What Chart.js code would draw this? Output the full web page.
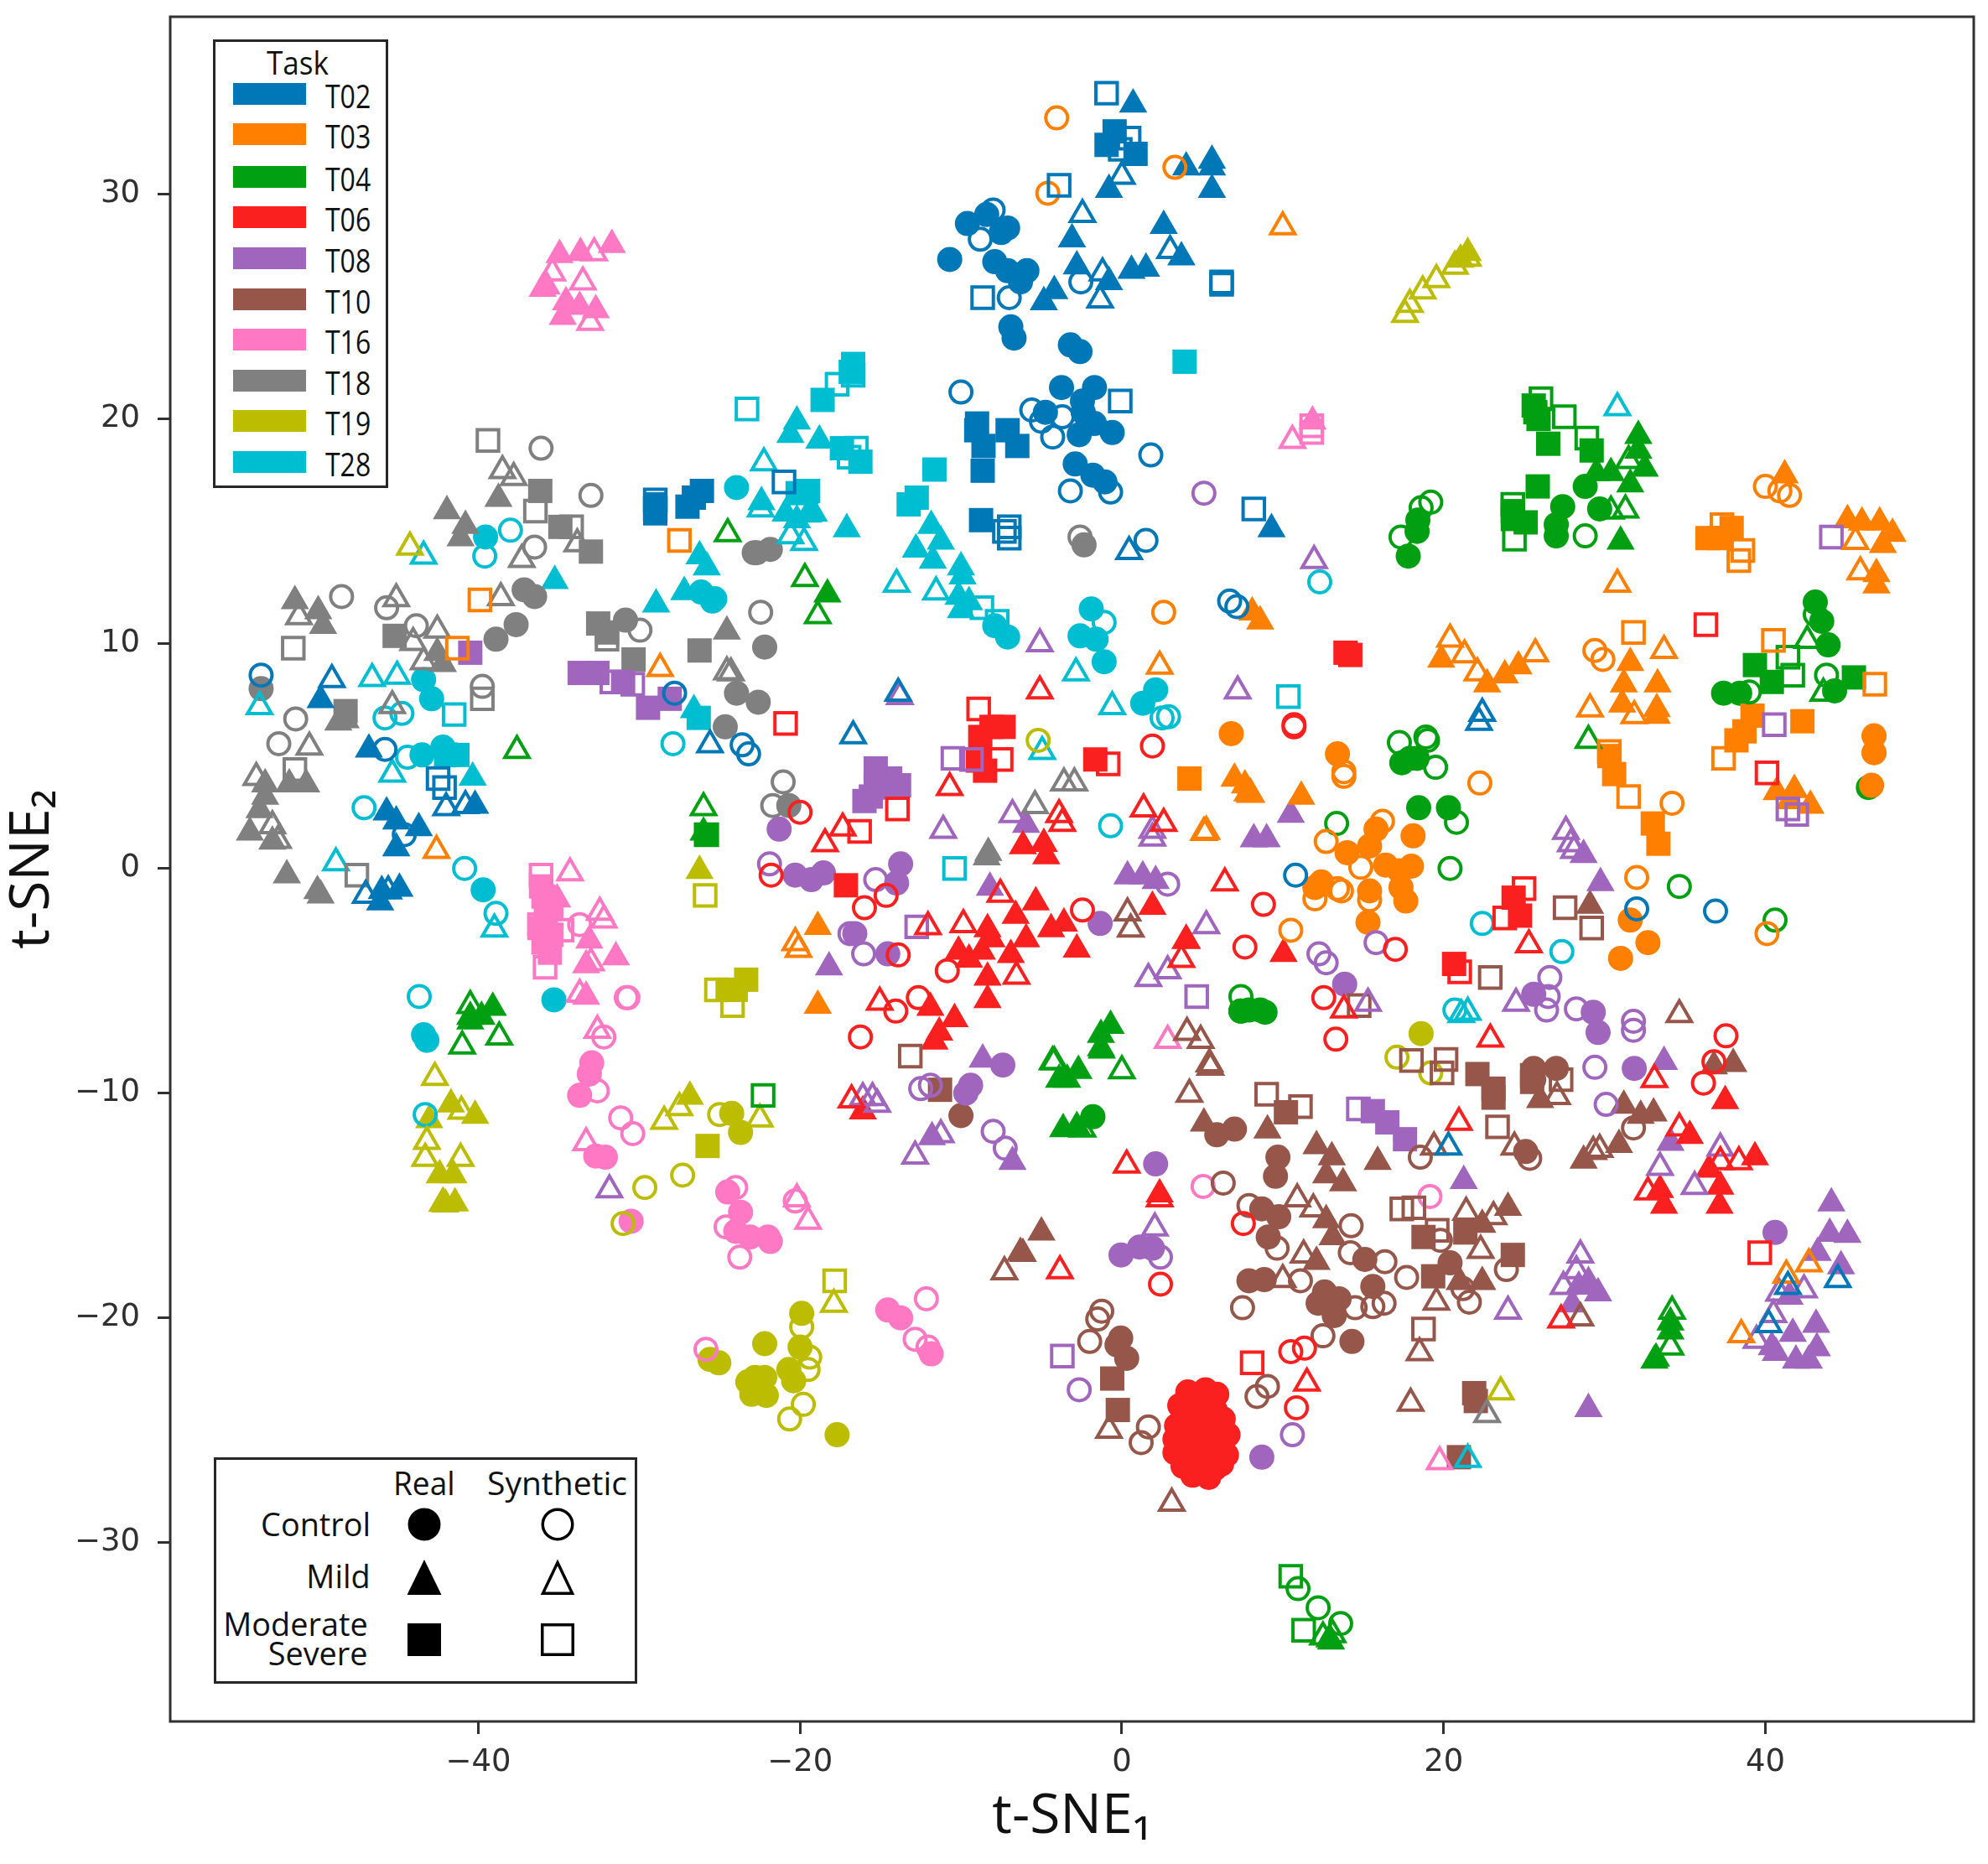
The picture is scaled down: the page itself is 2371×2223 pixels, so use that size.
<!DOCTYPE html>
<html><head><meta charset="utf-8">
<script src="https://cdn.jsdelivr.net/npm/chart.js@4"></script>
<style>
html,body{margin:0;padding:0;background:#fff;width:2371px;height:2223px;overflow:hidden}
#wrap{position:relative;width:2371px;height:2223px}
canvas{position:absolute;left:0;top:0}
.box{position:absolute;box-sizing:border-box;border:3px solid #262626;background:#fff}
.t{position:absolute;font-family:"Open Sans",sans-serif;font-size:39px;line-height:1;white-space:nowrap;color:#111}
.p{position:absolute;height:26px;width:87px}
svg{position:absolute;left:0;top:0}
</style></head><body>
<div id="wrap"><canvas id="c" width="2371" height="2223"></canvas><div id="legends"></div></div>
<script>
const tasks=['T02','T03','T04','T06','T08','T10','T16','T18','T19','T28'];
const colors=['#0077B6','#FF7F00','#00A012','#FA2020','#A066BE','#96564A','#FF78C4','#808080','#BCBC00','#00BED2'];
const xTicks=[-40,-20,0,20,40];
const yTicks=[-30,-20,-10,0,10,20,30];

const T02_real_control=[[-10.7,27.1],[-9.6,28.7],[-8.4,29.1],[-7.5,28.3],[-7.1,28.5],[-7.9,27],[-7.1,26.6],[-5.9,26.6],[-6.3,26.1],[-6.9,24.1],[-6.7,23.6],[-3.2,23.3],[-2.6,23],[-3.75,21.4],[-1.7,21.4],[-2.45,20.8],[-4.75,20.3],[-2.4,20.3],[-1.7,19.8],[-0.6,19.4],[-2.65,19.3],[-2.9,18],[-1.8,17.5],[-1.05,17.2]];
const T02_synth_control=[[-10,21.2],[-5.6,20.4],[-3.7,20.1],[-5,19.9],[-4.3,19.2],[1.8,18.4],[-3.2,16.8],[-0.7,16.75],[1.5,14.6],[-8,29.3],[-8.8,28],[-7,25.4],[-2.55,26.1],[-23.6,5.5],[-23.2,5.1],[-45.8,5.3],[-44.6,1.5],[-53.5,8.6],[-27.8,7.8],[6.7,11.9],[7.15,11.65],[32,-1.8],[36.9,-1.9],[10.8,-0.3]];
const T02_real_mild=[[0.7,34],[4,31.2],[5.6,31.5],[5.6,31.2],[5.6,30.2],[-0.8,30.2],[-3.1,28],[2.6,28.6],[3.7,27.2],[-2.8,26.8],[-0.8,26.1],[0.6,26.6],[1.5,26.7],[-4.2,25.7],[-4.85,25.2],[9.3,15.1],[-49.8,7.5],[-46.8,5.3],[-45.7,2.5],[-45.1,2.1],[-43.7,1.8],[-45.1,0.9],[-46,-1],[-44.9,-0.9],[-46.1,-1.5],[-40.2,2.8]];
const T02_synth_mild=[[0,30.8],[-2.45,29.1],[3,27.5],[-1.2,26.5],[-1.35,25.3],[0.45,14.1],[-49.1,8.4],[-25.6,5.5],[-16.7,5.9],[-42,2.7],[-40.8,2.8],[-47,-1.2],[-45.6,-1],[22.4,6.9],[22.2,6.5],[20.3,-12.4],[44.5,-18.3],[41.4,-18.6],[40.2,-20.3],[-13.9,7.8]];
const T02_real_moderate=[[-0.45,32.8],[-0.95,32.2],[0.85,31.8],[-9,19.8],[-9.05,19.5],[-7.1,19.5],[-6.5,18.8],[-8.6,18.8],[-8.65,17.7],[-8.75,15.5],[-29,16.2],[-29,15.8],[-27,16.1],[-26.6,16.5],[-26.1,16.8]];
const T02_synth_moderate=[[-0.95,34.5],[0.45,32.5],[-0.1,32],[-3.9,30.4],[-8.65,25.4],[6.2,26.1],[6.2,26],[-0.1,20.8],[8.2,16],[-7.3,15],[-7,14.7],[-7,15.2],[-21,17.2],[-29,16],[-29,16.4],[-42.5,4],[-42.1,3.6]];

const T03_real_control=[[6.8,6],[13.4,5.1],[15.8,1.75],[15.4,1],[14,0.7],[18.1,1.45],[16.4,0.15],[17.25,-0.1],[18,0.1],[15.4,-1],[17.35,-0.85],[17.65,-1.45],[15.3,-2.4],[31.6,-2.3],[32.7,-3.3],[31,-4],[12,-0.85],[12.4,-0.6],[46.75,5.9],[46.75,5.15],[46.6,3.7]];
const T03_synth_control=[[-4.05,33.4],[3.3,31.2],[-4.6,30.05],[2.6,11.4],[40,17],[40.9,16.8],[41.5,16.6],[29.4,9.7],[29.9,9.3],[22.25,3.8],[34.2,2.9],[13.8,4.3],[13.8,4.1],[32,-0.4],[40.1,-2.9],[16.2,2.1],[14.85,0.05],[13.4,-0.9],[15.4,-1.4],[12,-1.35],[10.5,-2.75],[12.7,1.2],[13.65,-1]];
const T03_real_mild=[[41.2,17.5],[45.1,15.5],[46,15.4],[47.1,15.4],[47.9,14.9],[47.3,14.4],[46.9,13.1],[46.9,12.6],[19.85,9.3],[22.7,8.2],[23.8,8.6],[24.65,9],[31.6,9.15],[31.2,8.2],[33.3,8.2],[31.1,7.3],[33.25,7.1],[33.25,6.8],[40.7,3.4],[41.8,3.5],[42.8,2.8],[41.5,3],[8.1,11.4],[8.6,11],[7,4],[7.65,3.7],[7.8,3.35],[11.15,3.2],[-18.9,-2.6],[-18.9,-6.1]];
const T03_synth_mild=[[10,28.55],[30.8,12.65],[45.9,13.2],[45.6,14.55],[20.4,10.2],[21.3,9.5],[22.1,8.7],[25.7,9.55],[33.7,9.7],[29.1,7.1],[31.85,6.8],[2.35,9],[5.25,1.65],[5.1,1.6],[-28.7,8.9],[-42.6,0.8],[-20.3,-3.3],[-20.1,-3.6],[8,3.3],[41.3,-18.1],[42.7,-17.6],[38.5,-20.75]];
const T03_real_moderate=[[36.4,14.7],[37.1,14.7],[37.9,15.15],[39.2,6.8],[38.7,6.1],[38.2,5.7],[42.3,6.55],[30.3,5],[30.6,4.2],[33,2],[33.35,1.1],[4.2,4]];
const T03_synth_moderate=[[37.3,15.3],[38.6,14.15],[38.35,13.7],[31.8,10.5],[40.5,10.15],[46.8,8.2],[37.4,4.9],[31.5,3.2],[30.3,5.2],[-27.5,14.6],[-39.9,11.95],[-41.3,9.8]];

const T04_real_control=[[18.4,15.5],[18.35,15],[17.8,13.9],[27.4,16.1],[28.8,17],[29.7,16],[27,15.3],[27,14.8],[43.1,11.85],[43.5,11],[43.9,9.95],[37.4,7.8],[38.4,7.8],[44.3,7.9],[46.4,3.6],[17.4,4.7],[18.35,4.9],[17.9,4.9],[18.45,2.7],[20.3,2.7],[7.4,-6.35],[8.6,-6.3],[7.9,-6.3],[8.9,-6.4],[-1.8,-11.05]];
const T04_synth_control=[[19.2,16.3],[18.6,16.05],[17.35,14.75],[28.8,14.8],[43.1,11.3],[43.8,8.6],[39,7.85],[17.25,5.6],[18.9,5.85],[19,5.7],[19.5,4.5],[20.8,2.05],[20.4,0],[34.65,-0.8],[40.6,-2.3],[13.35,2],[7.4,-5.7],[7.4,-6.35],[10.95,-32.05],[12.2,-32.9],[13.6,-33.6]];
const T04_real_mild=[[32.1,19.25],[32.1,18.6],[32.5,17.8],[29.5,17.6],[30.4,17.6],[31.6,17.1],[31,14.55],[-18.3,12.2],[-40.5,-6.6],[-39.8,-6.6],[-39.1,-6.2],[-40.5,-6.8],[-1.3,-7.4],[-0.7,-7],[-1.3,-8],[-3.4,-9.4],[-2.7,-9],[-3.9,-9.4],[-1.25,-8.1],[-3.65,-11.6],[-2.8,-11.5],[-26,1.6],[34.1,-20.2],[34.1,-20.6],[33.2,-21.8],[33.1,-21.9],[12.9,-34.3],[13,-34.4]];
const T04_synth_mild=[[30.4,15.9],[31.3,15.95],[31.5,18.15],[42.6,10.15],[43.6,7.8],[29,5.7],[-19.7,12.9],[-18.9,11.25],[-24.5,14.9],[-37.6,5.25],[-26,2.7],[-40.5,-6.1],[-41,-7.9],[-38.7,-7.5],[-4.3,-8.6],[0,-9],[-4.2,-8.6],[-2.45,-11.6],[34.2,-19.7],[34.1,-21.3],[12.5,-34.2],[13.1,-34.1]];
const T04_real_moderate=[[25.6,20.6],[25.7,20.3],[25.9,20],[26.5,18.9],[29.2,18.6],[25.85,17],[24.3,15.55],[25.1,15.4],[24.3,15.9],[39.35,9.05],[40.4,8.3],[45.5,8.5],[-25.85,1.5]];
const T04_synth_moderate=[[26.05,20.9],[27.5,20.1],[28.9,19.15],[24.3,16.2],[24.4,14.65],[41.4,9.4],[41.7,8.6],[-22.3,-10.1],[-25.8,1.5],[10.5,-31.5],[11.3,-33.9]];

const T06_real_control=[[4.1,-23.3],[5.2,-23.2],[5.9,-23.4],[3.8,-24],[4.8,-24],[5.8,-24.1],[6.3,-24.5],[3.4,-24.8],[4.4,-24.6],[5.3,-24.8],[3.3,-25.4],[4.2,-25.4],[5.2,-25.5],[6.1,-25.3],[6.6,-25.2],[3.3,-26],[4.3,-26.1],[5.4,-26.2],[6.5,-26.1],[3.8,-26.6],[4.8,-26.7],[5.8,-26.7],[6.2,-26.5],[4.4,-27],[5.4,-27.1],[5,-26.9],[3.6,-23.9]];
const T06_synth_control=[[-20,2.5],[-21.8,-0.3],[-16,-1.75],[-14.65,-1.2],[-13.9,-3.85],[-10.85,-4.55],[-2.45,-1.85],[1.9,5.45],[10.7,6.4],[10.7,6.3],[8.8,-1.6],[7.65,-3.5],[12.55,-5.75],[13.3,-7.6],[17,-3.6],[-12.65,-5.75],[-14.05,-6.35],[-16.25,-7.5],[37.55,-7.45],[36.8,-8.6],[36.15,-9.55],[7.55,-15.8],[2.4,-18.5],[10.5,-21.5],[11.35,-21.35],[10.85,-24]];
const T06_real_mild=[[-6.15,1],[-4.85,1.1],[-4.7,0.55],[1.9,-1.7],[-5.35,-1.5],[-6.6,-2.1],[-4.4,-2.7],[-3.6,-2.45],[-8.35,-2.7],[-5.95,-3.15],[-2.8,-3.6],[-10.15,-3.7],[-9.5,-4.05],[-8.7,-3.7],[-8.1,-3.15],[-6.9,-3.85],[-8.35,-4.85],[-8.35,-5.85],[-11.9,-6.2],[-10.4,-6.7],[-11.35,-7.3],[-11.65,-7.7],[4,-3.2],[10.05,-3.8],[-16.1,-10.8],[37.5,-10.35],[35.3,-11.9],[36.5,-13.4],[39.35,-12.85],[33.45,-14.3],[33.7,-15],[37.2,-14.15],[37.15,-15],[2.35,-14.5]];
const T06_synth_mild=[[-10.7,3.6],[-5.1,7.9],[-17.35,1.8],[-18.45,1.1],[-3.9,2.4],[-3.7,2],[1.35,2.65],[2.6,2],[6.4,-0.65],[-7.55,-1.15],[-9.85,-2.5],[-12.05,-2.6],[-6.55,-4.8],[4,-3.2],[3.7,-4.05],[-15.05,-5.95],[25.3,-3.4],[22.9,-7.6],[33.1,-9.4],[20.95,-11.3],[34.65,-11.55],[37.2,-13.05],[38.35,-13.05],[32.7,-14.4],[13.8,-6.3],[0.3,-13.2],[2.35,-14.7],[-3.85,-17.9],[11.5,-22.9],[-16.8,-10.3],[27.3,-20.1]];
const T06_real_moderate=[[-8.1,6.3],[-7.35,6.3],[-8.8,5.85],[-8.95,4.8],[-8.5,4.35],[-1.65,4.85],[13.9,9.6],[14.2,9.5],[-17.15,-0.75],[24.35,-1.3],[24.75,-2.1],[20.65,-4.25]];
const T06_synth_moderate=[[-8.9,7.1],[-7.5,4.85],[-20.9,6.45],[-13.95,2.65],[-16.3,1.65],[-0.85,4.65],[25,-0.9],[23.8,-2.2],[21,-4.6],[36.3,10.85],[40.1,4.25],[39.65,-17.1],[8.1,-22]];

const T08_real_control=[[-21.3,1.75],[-20.3,-0.3],[-19.3,-0.5],[-18.55,-0.2],[-13.75,0.2],[-14,-0.65],[-16.6,-2.9],[-14.55,-3.8],[-1.35,-2.45],[13.85,-5.15],[25.6,-5.6],[29.3,-6.4],[29.6,-7.3],[31.85,-8.9],[-7.4,-8.75],[-9.4,-9.65],[-9.7,-10],[2.1,-13.15],[-0.05,-17.2],[1.1,-16.85],[1.9,-16.9],[8.7,-26.2],[40.6,-16.2]];
const T08_synth_control=[[-21.9,0.2],[-15.3,-0.5],[-16.9,-2.9],[-16.05,-3.8],[2.85,-0.7],[5.1,16.7],[12.25,-3.8],[12.7,-4.2],[15.8,-3.3],[26.6,-4.85],[26.4,-6.3],[26.5,-5.7],[28.25,-6.25],[31.8,-6.8],[31.8,-7.2],[29.4,-8.85],[30.1,-10.5],[-8,-11.7],[-7.25,-12.45],[-12.5,-9.8],[-11.9,-9.65],[2.4,-17.3],[-2.65,-23.2],[10.6,-25.2]];
const T08_real_mild=[[-5.95,1.95],[10.5,2.4],[8.2,1.3],[9,1.3],[0.35,-0.35],[1.3,-0.35],[2.1,-0.55],[-8.2,-0.85],[-18.2,-4.4],[29.75,-0.65],[28.7,0.6],[33.7,-8.6],[34.1,-12.2],[21.25,-13.9],[-8.65,-8.5],[-11.8,-11.95],[-6.8,-13.05],[44.1,-14.9],[44,-16.25],[45.1,-16.3],[43.25,-17.1],[44.7,-17.7],[41.5,-19.05],[40.4,-21.3],[41.7,-20.7],[43.15,-20.3],[43.2,-21.35],[40.65,-21.55],[41.9,-21.9],[42.7,-21.9],[28.4,-18.6],[29,-18.4],[29.6,-18.9],[28,-19.4],[29,-24.05]];
const T08_synth_mild=[[-5.1,10],[7.2,7.9],[-13.8,7.65],[-6.8,2.4],[-11.1,1.7],[1.9,1.7],[1.9,1.35],[5.25,-2.55],[2.85,-4.55],[1.65,-4.9],[11.95,13.7],[15.3,-6],[24.5,-6],[27.6,1.65],[27.9,1.1],[28.1,0.8],[33.45,-13.3],[37.2,-12.45],[35.6,-14.15],[-16.1,-10.2],[-15.5,-10.2],[-15.2,-10.5],[-11.25,-11.85],[-12.85,-12.8],[-31.85,-14.3],[2.05,-16],[24,-19.7],[28.5,-17.2],[28.25,-17.9],[27.45,-18.6],[42.4,-18.75],[40.85,-18.9],[40.5,-19.85],[39.45,-21]];
const T08_real_moderate=[[-33.7,8.7],[-32.6,8.7],[-31,8.3],[-28.1,7.55],[-29.45,7.15],[-40.5,9.6],[-15.3,4.45],[-14.4,4],[-13.85,3.7],[-16,3],[-14.9,3.6],[-15.3,3.7],[-15.6,3.2],[15.6,-10.8],[16.5,-11.3],[17.6,-12.05]];
const T08_synth_moderate=[[-31.7,8.3],[-30.4,8.2],[-10.5,4.9],[-9.35,4.85],[4.65,-5.7],[-12.75,-2.6],[44.1,14.75],[40.55,6.4],[41.4,2.65],[41.95,2.4],[14.7,-10.7],[-3.7,-21.7]];

const T10_real_control=[[5.9,-11.85],[7,-11.6],[9.7,-12.85],[9.55,-13.7],[8.7,-15.15],[9.75,-15.5],[9.1,-16.4],[15.1,-17.4],[15.6,-18.6],[7.9,-18.35],[8.85,-18.3],[12.6,-18.85],[12.2,-19.35],[13.5,-19.15],[13.2,-19.9],[14.3,-21.05],[20.4,-17.55],[-0.07,-20.9],[-0.3,-21.2],[0.3,-21.8],[-10,-11],[25.6,-8.9],[27,-8.9],[25.6,-9.4],[25.1,-12.6]];
const T10_synth_control=[[7.9,-15],[6.3,-14],[9.65,-16.9],[14.25,-15.9],[14.2,-17.1],[16.35,-17.5],[17.7,-18.2],[11.1,-18.35],[7.5,-19.55],[14.5,-19.55],[15.6,-19.5],[16.3,-19.35],[12.5,-20.8],[21.2,-18.7],[21.6,-19.3],[23.9,-17.85],[19.8,-16.55],[25.35,-12.9],[18.55,-12.85],[31.8,-11.55],[-1.25,-19.7],[-1.5,-20.05],[-2,-21.05],[9.05,-23.05],[8.4,-23.5],[1.65,-24.85],[1.2,-25.55]];
const T10_real_mild=[[5.1,-11.35],[9.05,-11.65],[12.1,-12.35],[13.05,-12.85],[15.9,-13.05],[12.7,-13.65],[13.75,-14],[12.7,-15.65],[13.1,-16.4],[12.1,-17.5],[24,-15.1],[22.4,-15.85],[21,-18.4],[22.4,-18.4],[26,-10.3],[28.7,-13],[30.9,-12.3],[31.2,-10.55],[32.25,-11],[33.05,-10.9],[36.8,-8.8],[38,-8.7],[29.1,-1.65],[-5,-16.2],[-6.15,-17.15],[-6.3,-17.1]];
const T10_synth_mild=[[5.5,-8.85],[4.2,-10.05],[19.4,-12.4],[24.4,-12.4],[27.05,-10.15],[10.9,-14.7],[11.9,-15.15],[11.3,-17.2],[10,-18.3],[21.4,-15.3],[23.1,-15.5],[22.3,-17],[19.55,-19.3],[18.5,-21.55],[17.95,-23.8],[28.5,-20],[-0.8,-25],[3.1,-28.25],[29.3,-12.6],[29.7,-12.5],[0.35,-1.98],[0.55,-2.7],[4.05,-7.3],[4.9,-7.65],[5.45,-8.7],[34.65,-6.5],[-7.3,-17.95]];
const T10_real_moderate=[[10.2,-10.85],[22.1,-9.15],[23.1,-9.8],[23.1,-10.2],[25.5,-9.2],[25.5,-9.5],[18.75,-16.4],[21.35,-16.2],[24.3,-17.2],[19.35,-18.15],[-0.6,-22.7],[-0.25,-24.1],[21.9,-23.35],[22,-23.7],[20.95,-26.2],[-11.3,-9.85]];
const T10_synth_moderate=[[9,-10.05],[11.1,-10.6],[23.35,-11.5],[18,-8.55],[20.15,-8.5],[19.9,-9.1],[17.4,-15.15],[18.15,-15.1],[19.6,-16.1],[18.75,-20.5],[27.3,-9.4],[-13.15,-8.35],[14.75,-6.1],[22.9,-4.85],[27.55,-1.75],[29.2,-2.65]];

const T16_real_control=[[-32.95,-8.65],[-33.1,-9.15],[-33.7,-10.1],[-32.7,-12.8],[-32.1,-12.85],[-30.5,-15.7],[-24.5,-14.4],[-23.7,-15.3],[-24,-16.15],[-23.1,-16.4],[-22,-16.4],[-21.85,-16.6],[-14.55,-19.65],[-13.75,-20],[-11.85,-21.6]];
const T16_synth_control=[[-33.7,-2.5],[-30.8,-5.75],[-30.7,-5.75],[-32.2,-7.5],[-32.6,-9.9],[-31.15,-11.1],[-30.4,-11.8],[-24,-14.2],[-24.6,-15.95],[-23.75,-17.3],[-20.3,-14.8],[-12.15,-19.15],[-12.85,-20.95],[-12.05,-21.3],[-25.85,-21.4],[5.05,-14.15],[19.15,-14.6]];
const T16_real_mild=[[-34.95,27.3],[-33.65,27.4],[-31.7,27.75],[-35.75,25.9],[-34.55,25.2],[-33.7,25],[-32.7,24.85],[-34.75,24.55],[-36,25.8],[-35.1,-1.37],[-33.1,-3.2],[-31.45,-3.95],[-33.3,-4.3],[-33.3,-5.7],[11.85,19.9]];
const T16_synth_mild=[[-32.8,27.4],[-35.4,26.5],[-33.5,26.1],[-33.05,24.3],[-34.3,-0.2],[-32.45,-1.95],[-32.2,-2.3],[-33,-4.2],[-33.7,-5.6],[-32.6,-7.2],[-33.3,-12.2],[-20.2,-14.7],[-19.5,-15.7],[2.85,-7.65],[10.6,19.05],[19.75,-26.4]];
const T16_real_moderate=[[-36.1,-0.8],[-35.95,-1.25],[-35.45,-1.75],[-35.8,-2.15],[-36.2,-2.65],[-35.45,-2.95],[-35.95,-3.3],[-35.55,-3.75]];
const T16_synth_moderate=[[-36.1,-0.3],[-35.85,-4.4],[-36.2,-2.5],[-34.8,-2.75],[11.8,19.7],[11.8,19.4]];

const T18_real_control=[[-37.15,12.4],[-36.5,12.1],[-38.9,10.2],[-37.65,10.85],[-53.5,8],[-30.85,11.05],[-22.2,9.85],[-23.95,7.8],[-22.6,7.4],[-24.65,6.3],[-22.7,14.05],[-21.85,14.2],[-22.85,14.05],[-20.7,2.8],[-2.35,14.4]];
const T18_synth_control=[[-36.1,18.7],[-33,16.6],[-36.5,14.3],[-48.5,12.1],[-45.7,11.6],[-43.85,10.8],[-29.95,10.6],[-22.45,11.4],[-39.75,8.1],[-51.35,6.65],[-52.4,5.55],[-21.05,3.85],[-21.7,2.8],[-2.6,14.75]];
const T18_real_mild=[[-41.95,15.9],[-40.8,15.25],[-41.1,14.7],[-38.75,16.45],[-51.4,11.9],[-49.95,11.45],[-49.65,10.8],[-42.55,9.6],[-42.2,9.1],[-24.55,10.55],[-48.25,6.6],[-48.7,6.5],[-53.25,3.75],[-53.25,3.2],[-51.75,3.75],[-50.7,3.75],[-53.6,2.6],[-54.2,1.6],[-52.8,1.2],[-51.9,-0.3],[-50,-1],[-49.8,-1.2],[-8.3,0.7],[-8.4,0.5]];
const T18_synth_mild=[[-38.5,17.7],[-37.8,17.4],[-33.85,14.45],[-37.3,13.75],[-45.1,12],[-38.6,12.05],[-51.15,11.2],[-42.55,10.6],[-44.05,10.05],[-43.4,9.2],[-45.35,7.25],[-50.5,5.4],[-53.8,4.05],[-52.8,1.9],[-52.45,1.25],[-24.55,8.75],[-24.3,8.7],[-3.6,3.8],[-2.95,3.8],[-5.4,2.8],[22.7,-24.3]];
const T18_real_moderate=[[-36.15,16.8],[-34.9,15.2],[-33,14.1],[-45.2,10.35],[-32.55,10.9],[-32,10.5],[-30.35,9.3],[-26.25,9.7],[-48.25,7]];
const T18_synth_moderate=[[-39.4,19.05],[-36.45,15.9],[-34.2,15.2],[-51.5,9.8],[-39.75,7.55],[-51.4,4.4],[-32,10.2],[-47.55,-0.3]];

const T19_real_control=[[-24.25,-10.9],[-23.7,-11.75],[-19.9,-19.8],[-22.2,-21.15],[-20,-21.3],[-22.2,-22.65],[-20.7,-22.3],[-20.4,-22.8],[-22.1,-23.45],[-17.7,-25.2],[-22.8,-22.65],[-25.05,-22],[-25.6,-21.85],[-23.25,-22.85],[-23,-23.4],[18.6,-7.35]];
const T19_synth_control=[[-25,-10.95],[-29.65,-14.2],[-27.3,-13.65],[-31,-15.8],[-19.9,-20.4],[-19.4,-21.75],[-19.5,-22.3],[-19.8,-23.85],[-20.65,-24.5],[17.1,-8.4],[19.2,-9.1],[-5.2,5.7]];
const T19_real_mild=[[-26.85,-10.15],[-26.25,-0.1],[-43.05,-11.2],[-41.7,-10.5],[-40.2,-11],[-42.4,-13.65],[-41.55,-13.65],[-41.45,-14.9],[-42.05,-14.95],[21.05,27.1],[21.5,27.4]];
const T19_synth_mild=[[-42.7,-9.3],[-28.45,-11.25],[-27.5,-10.65],[-22.5,-11.15],[-41.05,-10.8],[-43.2,-12.15],[-43.3,-12.9],[-41.1,-12.9],[-42.2,-14.9],[-44.25,14.3],[-17.9,-19.4],[17.6,24.65],[17.9,25.1],[18.7,25.7],[19.55,26.2],[20.7,26.8],[21.5,27.15],[23.55,-23.3]];
const T19_real_moderate=[[-23.35,-4.95],[-24.5,-5.4],[-24,-5.4],[-25.75,-12.35]];
const T19_synth_moderate=[[-25.2,-5.4],[-24.2,-6.1],[-25.9,-1.2],[-17.85,-18.35]];

const T28_real_control=[[-39.55,14.75],[-43.4,8.4],[-42.9,7.55],[-23.95,16.95],[-26.15,12.3],[-25.45,11.9],[-42.2,5.4],[-43.5,5.05],[-41.5,5.05],[-39.7,-0.95],[-35.3,-5.85],[-43.2,-7.65],[-43.4,-7.4],[-1.9,11.55],[-2.6,10.35],[-1.6,10.2],[-1.1,9.2],[2.1,7.95],[1.3,7.35],[-7.9,10.8],[-7.1,10.3],[-25.3,12]];
const T28_synth_control=[[-38,15.05],[-39.6,13.9],[-45.8,6.7],[-44.75,6.9],[-44.4,4.95],[-47.1,2.7],[-40.85,0],[-38.9,-2],[-43.3,-10.95],[-43.67,-5.7],[-27.9,5.55],[-0.7,1.9],[12.3,12.75],[-1.1,10.95],[2.5,6.7],[2.9,6.75],[22.4,-2.45],[27.35,-3.7],[20.7,-6.3]];
const T28_real_mild=[[-35.25,12.8],[-28.95,11.75],[-27.2,12.3],[-26.25,13.9],[-25.8,13.4],[-40.35,4.05],[-18.8,19.05],[-20.6,19.3],[-20.2,19.9],[-19.5,15.75],[-19.15,15.8],[-17.1,15.1],[-11.85,15.25],[-11.25,14.55],[-12.8,14.2],[-11.75,13.7],[-10,13.4],[-9.9,13],[-10.15,12.1],[-9.5,11.85],[-10,11.5],[-22.4,16.3],[-20.9,15.8],[-20.2,15.5],[-26.6,7.05]];
const T28_synth_mild=[[-43.4,13.9],[-22.25,18.05],[-22.45,16],[-20.6,14.8],[-53.6,7.2],[-46.6,8.45],[-45.05,8.55],[-45.35,4.2],[-48.85,0.25],[-39,-2.7],[30.8,20.5],[-14,12.65],[-11.55,12.3],[-2.85,8.7],[-0.6,7.2],[-4.95,5.2],[21.5,-6.4],[21.1,-6.5],[21.5,-26.3],[-19.75,14.5]];
const T28_real_moderate=[[-16.7,22.45],[-16.85,22.1],[-18.6,20.85],[3.9,22.55],[-17.4,18.7],[-16.25,18.1],[-11.65,17.75],[-12.75,16.5],[-13.25,16.2],[-19.5,16.8],[-20.15,16.7],[-26.3,6.7],[-42,5.05],[-41.3,5.05],[-19.6,16.75]];
const T28_synth_moderate=[[-17.7,21.55],[-16.7,21.95],[-16.95,18.3],[-16.5,18.7],[-23.3,20.45],[-41.5,6.85],[-8.7,11.6],[-7.75,11],[10.35,7.65],[-10.4,0]];

const open=[[T02_synth_control,T02_synth_mild,T02_synth_moderate],[T03_synth_control,T03_synth_mild,T03_synth_moderate],[T04_synth_control,T04_synth_mild,T04_synth_moderate],[T06_synth_control,T06_synth_mild,T06_synth_moderate],[T08_synth_control,T08_synth_mild,T08_synth_moderate],[T10_synth_control,T10_synth_mild,T10_synth_moderate],[T16_synth_control,T16_synth_mild,T16_synth_moderate],[T18_synth_control,T18_synth_mild,T18_synth_moderate],[T19_synth_control,T19_synth_mild,T19_synth_moderate],[T28_synth_control,T28_synth_mild,T28_synth_moderate]];
const solid=[[T02_real_control,T02_real_mild,T02_real_moderate],[T03_real_control,T03_real_mild,T03_real_moderate],[T04_real_control,T04_real_mild,T04_real_moderate],[T06_real_control,T06_real_mild,T06_real_moderate],[T08_real_control,T08_real_mild,T08_real_moderate],[T10_real_control,T10_real_mild,T10_real_moderate],[T16_real_control,T16_real_mild,T16_real_moderate],[T18_real_control,T18_real_mild,T18_real_moderate],[T19_real_control,T19_real_mild,T19_real_moderate],[T28_real_control,T28_real_mild,T28_real_moderate]];
const shapes=['circle','triangle','rect'];
const solidR=[15,19.5,20.5];
const openR=[13,16.5,18];
const levels=['Control','Mild','Moderate Severe'];
const datasets=[];
tasks.forEach((t,i)=>shapes.forEach((s,k)=>datasets.push({label:t+' synthetic '+levels[k],data:open[i][k],pointStyle:s,pointRadius:openR[k],pointBorderWidth:4,pointBorderColor:colors[i],pointBackgroundColor:'rgba(0,0,0,0)',showLine:false})));
tasks.forEach((t,i)=>shapes.forEach((s,k)=>datasets.push({label:t+' real '+levels[k],data:solid[i][k],pointStyle:s,pointRadius:solidR[k],pointBorderWidth:0,pointBackgroundColor:colors[i],pointBorderColor:colors[i],showLine:false})));

const ink='#303030';
const frame={id:'frame',afterDraw(ch){const a=ch.chartArea,c=ch.ctx;c.save();c.strokeStyle=ink;c.lineWidth=3;c.strokeRect(a.left,a.top,a.right-a.left,a.bottom-a.top);c.restore();}};
const tickFont={family:'"DejaVu Sans"',size:37};
const titleFont={family:'"Open Sans"',size:66};
const fmt=v=>String(v).replace('-','\u2212');
const noPad=s=>{s.paddingTop=0;s.paddingBottom=0;s.paddingLeft=0;s.paddingRight=0;};
new Chart(document.getElementById('c'),{type:'scatter',data:{datasets},plugins:[frame],options:{
 responsive:false,animation:false,devicePixelRatio:1,
 layout:{autoPadding:false,padding:{top:20,right:17,left:0,bottom:0}},
 plugins:{legend:{display:false},tooltip:{enabled:false},title:{display:false}},
 scales:{
  x:{type:'linear',min:-59.15,max:52.95,
   afterBuildTicks(s){s.ticks=xTicks.map(v=>({value:v}));},
   afterFit(s){s.height=170;noPad(s);},
   grid:{drawOnChartArea:false,drawTicks:true,tickLength:15,tickColor:ink,tickWidth:3},
   border:{display:false},
   ticks:{font:tickFont,color:ink,padding:12,maxRotation:0,autoSkip:false,callback:fmt},
   title:{display:true,text:'t-SNE\u2081',font:titleFont,color:'#111',padding:{top:0,bottom:16}}},
  y:{type:'linear',min:-37.96,max:37.9,
   afterBuildTicks(s){s.ticks=yTicks.map(v=>({value:v}));},
   afterFit(s){s.width=203;noPad(s);},
   grid:{drawOnChartArea:false,drawTicks:true,tickLength:15,tickColor:ink,tickWidth:3},
   border:{display:false},
   ticks:{font:tickFont,color:ink,padding:21,autoSkip:false,callback:fmt},
   title:{display:true,text:'t-SNE\u2082',font:titleFont,color:'#111',padding:{top:0,bottom:11}}}
 }}});

// legends
const L=document.getElementById('legends');
function el(cls,st,txt){const d=document.createElement('div');d.className=cls;Object.assign(d.style,st);if(txt)d.textContent=txt;L.appendChild(d);return d;}
function text(s,x,base,opt={}){const fs=39;const st={top:(base-.888*fs)+'px',transform:'scaleX('+(opt.sx||.93)+')'};
 if(opt.right){st.right=(2371-x)+'px';st.transformOrigin='right';}else{st.left=x+'px';st.transformOrigin='left';}
 el('t',st,s);}
el('box',{left:'254px',top:'47px',width:'209px',height:'535px'});
text('Task',318,89,{sx:.9});
const patchY=[112,160,211,259,308,357,405,454,502,551];
tasks.forEach((t,i)=>{el('p',{left:'278px',top:(patchY[i]-13)+'px',background:colors[i]});text(t,388,patchY[i]+17,{sx:.82});});
el('box',{left:'255px',top:'1738px',width:'505px',height:'270px'});
text('Real',469,1783,{sx:.95});text('Synthetic',581,1783,{sx:1});
text('Control',442,1832,{right:1,sx:.97});text('Mild',442,1894,{right:1,sx:.97});
text('Moderate',439,1951,{right:1,sx:.97});text('Severe',439,1986,{right:1,sx:.97});
const ns='http://www.w3.org/2000/svg';const sv=document.createElementNS(ns,'svg');sv.setAttribute('width','2371');sv.setAttribute('height','2223');
[[506,'#000','none'],[665,'none','#000']].forEach(([cx,f,st])=>{
 const sw=st==='none'?0:3.5,ins=sw/2;
 const add=(tag,attrs)=>{const e=document.createElementNS(ns,tag);for(const k in attrs)e.setAttribute(k,attrs[k]);e.setAttribute('fill',f);e.setAttribute('stroke',st);e.setAttribute('stroke-width',sw);sv.appendChild(e);};
 add('circle',{cx,cy:1818,r:19.5-ins});
 add('polygon',{points:`${cx},${1860+ins*2} ${cx+20.5-ins*1.7},${1902-ins} ${cx-20.5+ins*1.7},${1902-ins}`});
 add('rect',{x:cx-20+ins,y:1936+ins,width:40-sw,height:39-sw});
});
L.appendChild(sv);
</script></body></html>
